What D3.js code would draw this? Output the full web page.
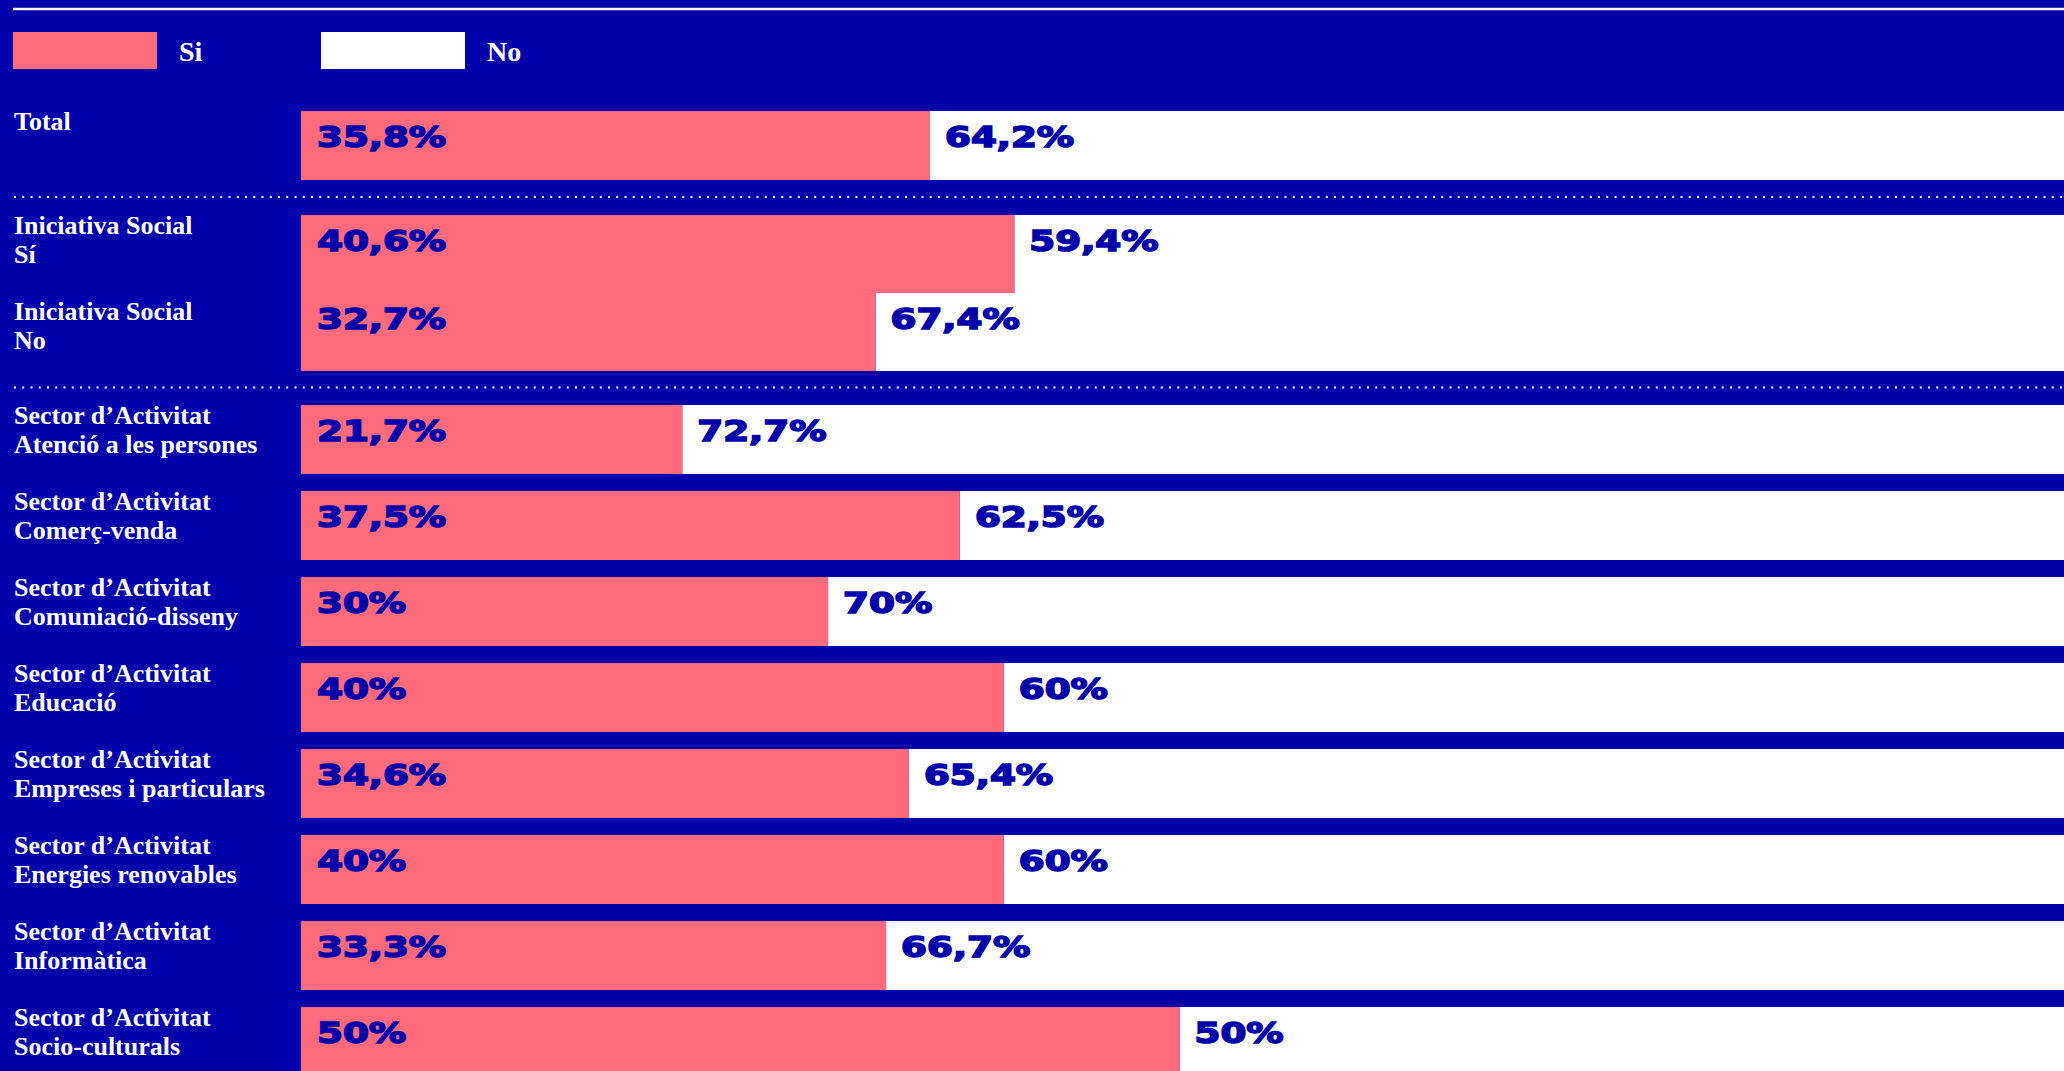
<!DOCTYPE html>
<html lang="ca">
<head>
    <meta charset="utf-8">
    <script src="https://d3js.org/d3.v7.min.js"></script>
    <style>
        html, body { margin: 0; padding: 0; background: #0000aa; overflow: hidden; }
        .label { fill: #fff; font-family: "Liberation Serif", "DejaVu Serif", serif; font-weight: bold; font-size: 26px; }
        .legend text { font-size: 28px; }
        .value { fill: #0000aa; stroke: #0000aa; stroke-width: 1.6px; font-family: "DejaVu Sans", sans-serif; font-weight: bold; font-size: 28px; }
        .sep { stroke: #fff; stroke-width: 2; stroke-dasharray: 2 6.25; }
    </style>
</head>
<body>
    <div id="chart"></div>

    <script>
        // Data
        const groupTotal = ['Total'];
        const groupIniciativa = ['Iniciativa Social|Sí', 'Iniciativa Social|No'];
        const groupSector = [
            'Sector d’Activitat|Atenció a les persones',
            'Sector d’Activitat|Comerç-venda',
            'Sector d’Activitat|Comuniació-disseny',
            'Sector d’Activitat|Educació',
            'Sector d’Activitat|Empreses i particulars',
            'Sector d’Activitat|Energies renovables',
            'Sector d’Activitat|Informàtica',
            'Sector d’Activitat|Socio-culturals'
        ];
        const siValues = [35.8, 40.6, 32.7, 21.7, 37.5, 30, 40, 34.6, 40, 33.3, 50];
        const noValues = [64.2, 59.4, 67.4, 72.7, 62.5, 70, 60, 65.4, 60, 66.7, 50];
        const seriesNames = ['Si', 'No'];

        const width = 2064, height = 1071;
        const pink = '#ff6b7b';
        const fmt = v => String(v).replace('.', ',') + '%';

        const svg = d3.select('#chart').append('svg')
            .attr('width', width)
            .attr('height', height);

        // x scale for the "Si" share
        const x = d3.scaleLinear().domain([0, 100]).range([301, 2058]);

        // y bands per group
        const groups = [
            { rows: groupTotal, y: d3.scaleBand().domain(groupTotal).range([111, 180]) },
            { rows: groupIniciativa, y: d3.scaleBand().domain(groupIniciativa).range([215, 371]) },
            { rows: groupSector, y: d3.scaleBand().domain(groupSector).range([405, 405 + 86 * 8 - 17]).paddingInner(17 / 86) }
        ];
        const labelStep = 86;

        // top rule
        svg.append('line')
            .attr('x1', 13).attr('x2', width)
            .attr('y1', 9).attr('y2', 9)
            .attr('stroke', '#fff').attr('stroke-width', 2.5);

        // legend
        const legend = svg.selectAll('.legend')
            .data(seriesNames)
            .enter().append('g')
            .attr('class', 'legend')
            .attr('transform', (d, i) => `translate(${13 + i * 308},32)`);
        legend.append('rect')
            .attr('width', 144).attr('height', 37)
            .attr('fill', (d, i) => i === 0 ? pink : '#fff');
        legend.append('text')
            .attr('class', 'label')
            .attr('x', 166).attr('y', 29)
            .text(d => d);

        let k = 0;
        groups.forEach((g, gi) => {
            const y = g.y;
            const top = y.range()[0];
            const rows = g.rows.map((name, i) => ({ name, si: siValues[k + i], no: noValues[k + i], i }));
            k += rows.length;

            const row = svg.selectAll(null)
                .data(rows)
                .enter().append('g');

            // No (white) part runs to the edge
            row.append('rect')
                .attr('x', d => x(d.si))
                .attr('y', d => y(d.name))
                .attr('width', d => width - x(d.si))
                .attr('height', y.bandwidth())
                .attr('fill', '#fff');

            // Si (pink) part
            row.append('rect')
                .attr('x', x(0))
                .attr('y', d => y(d.name))
                .attr('width', d => x(d.si) - x(0))
                .attr('height', y.bandwidth())
                .attr('fill', pink);

            row.append('text')
                .attr('class', 'value')
                .attr('transform', d => `translate(${x(0) + 16},${y(d.name) + 36}) scale(1.33,1)`)
                .text(d => fmt(d.si));

            row.append('text')
                .attr('class', 'value')
                .attr('transform', d => `translate(${x(d.si) + 15},${y(d.name) + 36}) scale(1.33,1)`)
                .text(d => fmt(d.no));

            // row labels, two lines
            const lab = row.append('text')
                .attr('class', 'label')
                .attr('x', 14)
                .attr('y', d => top + d.i * labelStep + 19);
            lab.selectAll('tspan')
                .data(d => d.name.split('|'))
                .enter().append('tspan')
                .attr('x', 14)
                .attr('dy', (d, i) => i === 0 ? 0 : 29)
                .text(d => d);

            // dotted separator below group
            if (gi < groups.length - 1) {
                const yEnd = y.range()[1];
                const yNext = groups[gi + 1].y.range()[0];
                svg.append('line')
                    .attr('class', 'sep')
                    .attr('x1', 14).attr('x2', width)
                    .attr('y1', (yEnd + yNext) / 2 - 0.5)
                    .attr('y2', (yEnd + yNext) / 2 - 0.5);
            }
        });
    </script>
</body>
</html>
